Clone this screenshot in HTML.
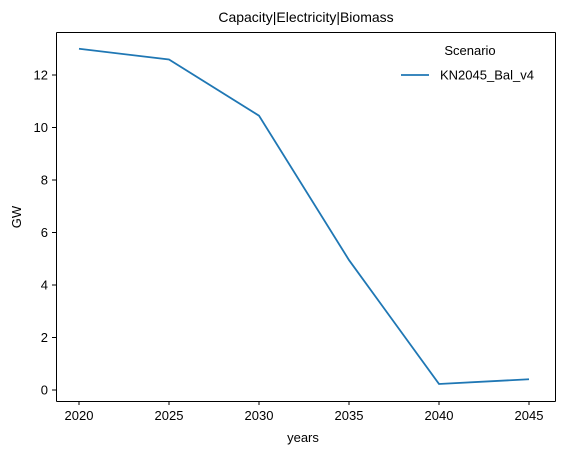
<!DOCTYPE html>
<html><head><meta charset="utf-8"><style>
body{margin:0;background:#fff;}
svg text{font-family:"Liberation Sans","DejaVu Sans",sans-serif;fill:#000;}
</style></head><body>
<svg id="chart" width="561" height="456">
<text x="306" y="22" font-size="14" text-anchor="middle">Capacity|Electricity|Biomass</text>
<g stroke="#000" stroke-width="1.1" shape-rendering="crispEdges">
<line x1="56.5" y1="32.5" x2="555.5" y2="32.5"/>
<line x1="56.5" y1="401.5" x2="555.5" y2="401.5"/>
<line x1="56.5" y1="32.5" x2="56.5" y2="401.5"/>
<line x1="555.5" y1="32.5" x2="555.5" y2="401.5"/>
</g>
<g id="xticks"></g><g id="yticks"></g>
<text x="303" y="442" font-size="13" text-anchor="middle">years</text>
<text transform="translate(21,217) rotate(-90)" font-size="13" text-anchor="middle">GW</text>
<polyline id="series" fill="none" stroke="#1f77b4" stroke-width="1.8"/>
<g>
<text x="470" y="55" font-size="13" text-anchor="middle">Scenario</text>
<line x1="401" y1="75" x2="429" y2="75" stroke="#1f77b4" stroke-width="1.8"/>
<text x="440" y="79.5" font-size="13">KN2045_Bal_v4</text>
</g>
</svg>
<script>
const years=[2020,2025,2030,2035,2040,2045];
const values=[13.0,12.59,10.45,4.95,0.23,0.41];
const yTicks=[0,2,4,6,8,10,12];
const xTicks=[2020,2025,2030,2035,2040,2045];
const ns="http://www.w3.org/2000/svg";
function xs(v){return 79+(v-2020)*(529-79)/25;}
function ys(v){return 390-v*26.25;}
const xg=document.getElementById('xticks'),yg=document.getElementById('yticks');
xTicks.forEach(t=>{
 const l=document.createElementNS(ns,'line');
 l.setAttribute('x1',xs(t));l.setAttribute('x2',xs(t));l.setAttribute('y1',401);l.setAttribute('y2',405);l.setAttribute('stroke','#000');
 
 
 xg.appendChild(l);
 const tx=document.createElementNS(ns,'text');
 tx.setAttribute('x',xs(t));tx.setAttribute('y',420);tx.setAttribute('font-size','13');tx.setAttribute('text-anchor','middle');tx.textContent=t;
 
 
 xg.appendChild(tx);
});
yTicks.forEach(t=>{
 const l=document.createElementNS(ns,'line');
 l.setAttribute('x1',52);l.setAttribute('x2',56.5);l.setAttribute('y1',ys(t));l.setAttribute('y2',ys(t));l.setAttribute('stroke','#000');
 
 
 yg.appendChild(l);
 const tx=document.createElementNS(ns,'text');
 tx.setAttribute('x',48);tx.setAttribute('y',ys(t)+4.5);tx.setAttribute('font-size','13');tx.setAttribute('text-anchor','end');tx.textContent=t;
 
 
 yg.appendChild(tx);
});
document.getElementById('series').setAttribute('points',years.map((y,i)=>xs(y)+','+ys(values[i])).join(' '));
</script>
</body></html>
